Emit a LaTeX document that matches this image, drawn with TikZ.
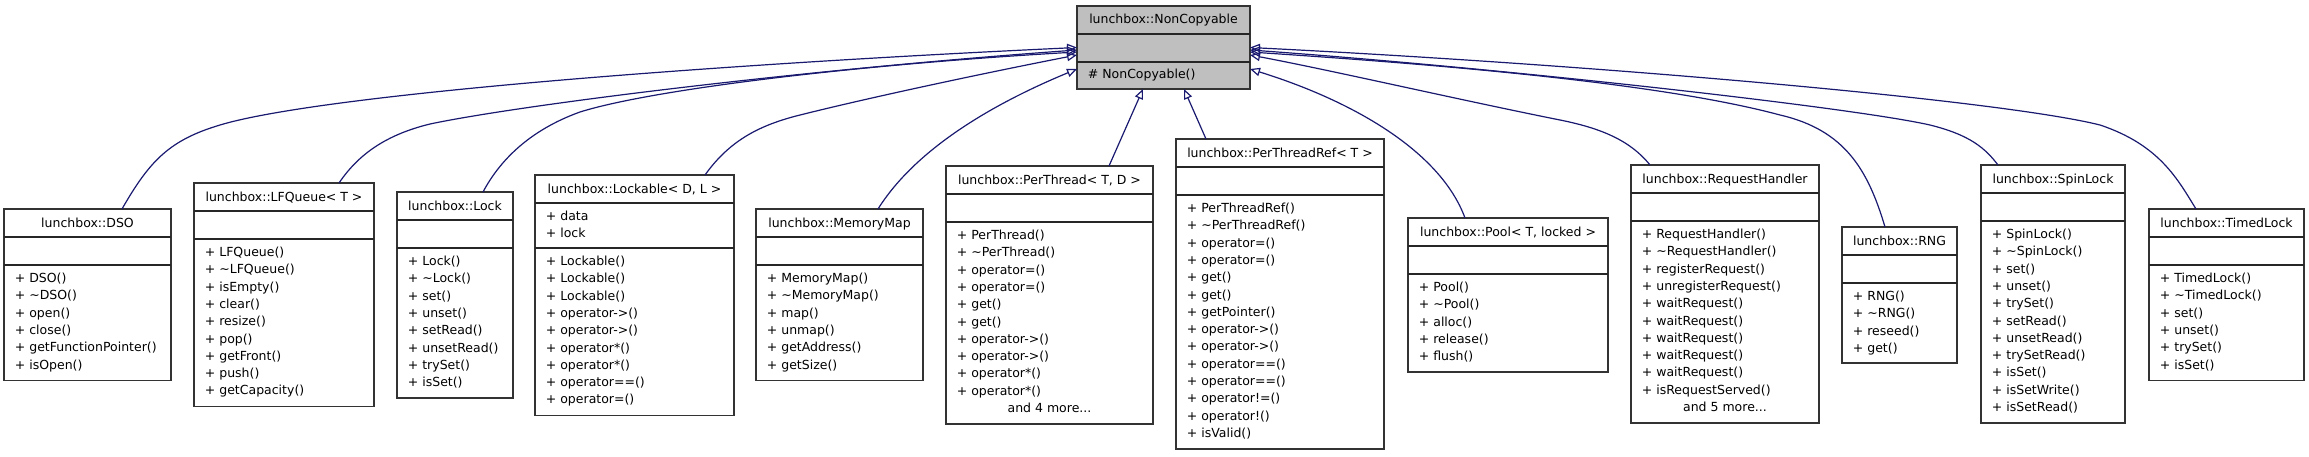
\documentclass[tikz,border=0pt]{standalone}
\usepackage{fontspec}
\setmainfont{DejaVu Sans}
\usetikzlibrary{arrows.meta,fit}
\definecolor{edgeblue}{HTML}{191970}
\definecolor{ncgray}{HTML}{BFBFBF}
\newcommand\tld{\textasciitilde}
\tikzset{
  classbox/.style={draw=black!80, fill=white, line width=0.9pt, inner sep=0pt, outer sep=0pt},
  classline/.style={draw=black!85, line width=0.9pt},
  titletext/.style={anchor=base, inner sep=0pt, font=\fontsize{6.25pt}{8.65pt}\selectfont},
  membertext/.style={anchor=base west, inner sep=0pt, font=\fontsize{6.25pt}{8.65pt}\selectfont},
  inh/.style={draw=edgeblue, line width=0.6pt, -{Triangle[open,length=5pt,width=4.2pt]}}
}
% #1 name, #2 left, #3 top, #4 right, #5 bottom, #6 second separator, #7 title, #8 methods
\newcommand\umlclass[8]{%
  \node[classbox, fit={(#2,#3) (#4,#5)}] (#1) {};
  \draw[classline] (#2,#3+28) -- (#4,#3+28);
  \draw[classline] (#2,#6) -- (#4,#6);
  \node[titletext] (#1-title) at ({(#2+#4)/2},#3+18) {#7};
  \node[membertext] (#1-ops) at (#2+10.5,#6+17.5) {\begin{tabular}[t]{@{}l@{}}#8\end{tabular}};
}
\begin{document}
\begin{tikzpicture}[x=0.5pt,y=-0.5pt]
\useasboundingbox (0,0) rectangle (2309,456);
% base class
\node[classbox, fill=ncgray, fit={(1077,6) (1250,89)}] (nc) {};
\draw[classline] (1077,34) -- (1250,34);
\draw[classline] (1077,62) -- (1250,62);
\node[titletext] (nc-title) at (1163.5,23) {lunchbox::NonCopyable};
\node[membertext] (nc-ops) at (1087.5,78.5) {\# NonCopyable()};
% derived classes
\umlclass{dso}{4}{209}{171}{380.5}{265}{lunchbox::DSO}{+ DSO()\\+ \tld DSO()\\+ open()\\+ close()\\+ getFunctionPointer()\\+ isOpen()}
\umlclass{lfq}{194}{183}{374}{406.4}{239}{lunchbox::LFQueue< T >}{+ LFQueue()\\+ \tld LFQueue()\\+ isEmpty()\\+ clear()\\+ resize()\\+ pop()\\+ getFront()\\+ push()\\+ getCapacity()}
\umlclass{lock}{397}{192}{513}{398.1}{248}{lunchbox::Lock}{+ Lock()\\+ \tld Lock()\\+ set()\\+ unset()\\+ setRead()\\+ unsetRead()\\+ trySet()\\+ isSet()}
\umlclass{lockable}{535}{175}{734}{415.4}{248}{lunchbox::Lockable< D, L >}{+ Lockable()\\+ Lockable()\\+ Lockable()\\+ operator->()\\+ operator->()\\+ operator*()\\+ operator*()\\+ operator==()\\+ operator=()}
\node[membertext] (lockable-attrs) at (545.5,220.5) {\begin{tabular}[t]{@{}l@{}}+ data\\+ lock\end{tabular}};
\umlclass{memmap}{756}{209}{923}{380.5}{265}{lunchbox::MemoryMap}{+ MemoryMap()\\+ \tld MemoryMap()\\+ map()\\+ unmap()\\+ getAddress()\\+ getSize()}
\umlclass{perthread}{946}{166}{1153}{424}{222}{lunchbox::PerThread< T, D >}{+ PerThread()\\+ \tld PerThread()\\+ operator=()\\+ operator=()\\+ get()\\+ get()\\+ operator->()\\+ operator->()\\+ operator*()\\+ operator*()}
\node[titletext] (perthread-more) at (1049.5,412.5) {and 4 more...};
\umlclass{ptref}{1176}{139}{1384}{449}{195}{lunchbox::PerThreadRef< T >}{+ PerThreadRef()\\+ \tld PerThreadRef()\\+ operator=()\\+ operator=()\\+ get()\\+ get()\\+ getPointer()\\+ operator->()\\+ operator->()\\+ operator==()\\+ operator==()\\+ operator!=()\\+ operator!()\\+ isValid()}
\umlclass{pool}{1408}{218}{1608}{372}{274}{lunchbox::Pool< T, locked >}{+ Pool()\\+ \tld Pool()\\+ alloc()\\+ release()\\+ flush()}
\umlclass{reqh}{1631}{165}{1819}{423}{221}{lunchbox::RequestHandler}{+ RequestHandler()\\+ \tld RequestHandler()\\+ registerRequest()\\+ unregisterRequest()\\+ waitRequest()\\+ waitRequest()\\+ waitRequest()\\+ waitRequest()\\+ waitRequest()\\+ isRequestServed()}
\node[titletext] (reqh-more) at (1725,411.5) {and 5 more...};
\umlclass{rng}{1842}{227}{1957}{363}{283}{lunchbox::RNG}{+ RNG()\\+ \tld RNG()\\+ reseed()\\+ get()}
\umlclass{spin}{1981}{165}{2125}{423}{221}{lunchbox::SpinLock}{+ SpinLock()\\+ \tld SpinLock()\\+ set()\\+ unset()\\+ trySet()\\+ setRead()\\+ unsetRead()\\+ trySetRead()\\+ isSet()\\+ isSetWrite()\\+ isSetRead()}
\umlclass{timed}{2149}{209}{2304}{380.5}{265}{lunchbox::TimedLock}{+ TimedLock()\\+ \tld TimedLock()\\+ set()\\+ unset()\\+ trySet()\\+ isSet()}
% inheritance edges
\draw[inh] ([xshift=17.25pt]dso.north) .. controls (150,160) and (170,140) .. (220,125) .. controls (320,95) and (700,65) .. (nc.west);
\draw[inh] ([xshift=27.5pt]lfq.north) .. controls (358,155) and (385,135) .. (430,124) .. controls (520,105) and (800,70) .. ([yshift=-1.25pt]nc.west);
\draw[inh] ([xshift=14pt]lock.north) .. controls (500,160) and (530,130) .. (580,112) .. controls (650,90) and (850,65) .. ([yshift=-2.25pt]nc.west);
\draw[inh] ([xshift=35.25pt]lockable.north) .. controls (730,140) and (760,125) .. (800,115) .. controls (880,95) and (1000,70) .. ([yshift=-3.75pt]nc.west);
\draw[inh] ([xshift=19.25pt]memmap.north) .. controls (915,150) and (990,105) .. ([yshift=-10.75pt]nc.west);
\draw[inh] ([xshift=29.75pt]perthread.north) -- ([xshift=-10.25pt]nc.south);
\draw[inh] ([xshift=-37pt]ptref.north) -- ([xshift=10.25pt]nc.south);
\draw[inh] ([xshift=-21.5pt]pool.north) .. controls (1440,150) and (1350,100) .. ([yshift=-10.75pt]nc.east);
\draw[inh] ([xshift=-37.5pt]reqh.north) .. controls (1630,140) and (1600,128) .. (1560,120) .. controls (1460,100) and (1330,70) .. ([yshift=-3.75pt]nc.east);
\draw[inh] ([xshift=-7.25pt]rng.north) .. controls (1868,170) and (1845,130) .. (1780,115) .. controls (1650,80) and (1400,62) .. ([yshift=-2.25pt]nc.east);
\draw[inh] ([xshift=-27.5pt]spin.north) .. controls (1985,148) and (1970,135) .. (1930,125) .. controls (1850,107) and (1500,68) .. ([yshift=-1.25pt]nc.east);
\draw[inh] ([xshift=-15.25pt]timed.north) .. controls (2178,180) and (2160,145) .. (2100,125) .. controls (2000,100) and (1600,65) .. (nc.east);
\end{tikzpicture}
\end{document}
